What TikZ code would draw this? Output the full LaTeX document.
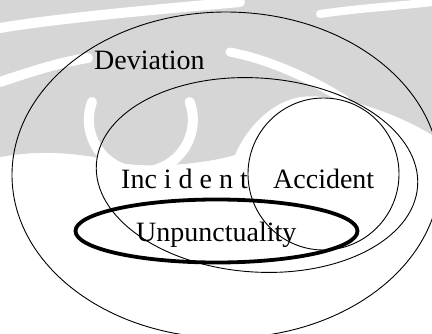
\documentclass[tikz,border=0pt]{standalone}
\usepackage{fontspec}
\setmainfont{Liberation Serif}
\definecolor{wmgray}{RGB}{214,214,214}
\begin{document}
\begin{tikzpicture}[x=1pt,y=-1pt,
  setline/.style={draw=black,line width=0.9pt},
  thickset/.style={draw=black,line width=3.8pt},
  wmcut/.style={draw=white,line cap=round},
  lbl/.style={anchor=base west,inner sep=0pt,font=\fontsize{28}{30}\selectfont}]
\useasboundingbox (0,0) rectangle (432,333);
% faint watermark
\fill[wmgray] (0,0) -- (432,0) -- (432,135)
  .. controls (400,115) and (340,92) .. (300,97)
  .. controls (270,102) and (245,130) .. (235,155)
  .. controls (200,165) and (150,168) .. (120,163)
  .. controls (80,152) and (40,150) .. (0,157) -- cycle;
\draw[wmcut,line width=10pt] (0,28) .. controls (60,18) and (150,10) .. (240,2);
\draw[wmcut,line width=8pt] (320,14) .. controls (360,8) and (400,6) .. (432,2);
\draw[wmcut,line width=10pt] (0,82) .. controls (30,72) and (60,62) .. (88,58);
\draw[wmcut,line width=10pt] (92,102) arc[start angle=160,end angle=380,radius=52pt];
\draw[wmcut,line width=9pt] (230,52) .. controls (270,60) and (310,78) .. (345,100);
% Deviation
\draw[setline] (226,175) ellipse [x radius=214pt, y radius=163pt];
% Incident
\draw[setline,rotate around={-4:(257,175)}] (257,175) ellipse [x radius=161pt, y radius=97pt];
% Accident
\draw[setline] (323.5,174) ellipse [x radius=75.5pt, y radius=76pt];
% Unpunctuality
\draw[thickset] (216.5,231) ellipse [x radius=141pt, y radius=31.5pt];
\node[lbl] (dev) at (94,69) {Deviation};
\node[lbl] (inc) at (121,188) {Inc i d e n t};
\node[lbl] (acc) at (273,188) {Accident};
\node[lbl] (unp) at (136,241) {Unpunctuality};
\end{tikzpicture}
\end{document}
